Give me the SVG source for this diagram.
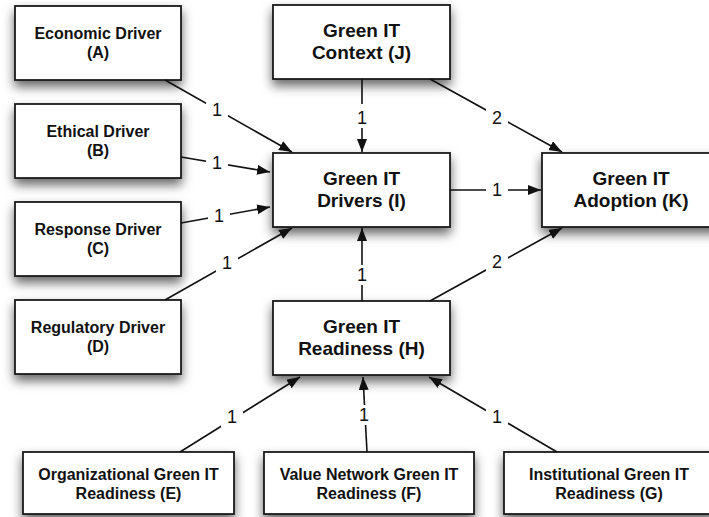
<svg xmlns="http://www.w3.org/2000/svg" width="709" height="517" viewBox="0 0 709 517">
<style>
.box{fill:#fff;stroke:#1a1a1a;stroke-width:1.8;filter:url(#sh)}
.t{font-family:"Liberation Sans",Arial,sans-serif;font-weight:bold;fill:#111;text-anchor:middle}
.s{font-size:16px}
.b{font-size:19px}
.e{stroke:#111;stroke-width:1.6;fill:none;marker-end:url(#ah)}
.l{font-family:"Liberation Sans",Arial,sans-serif;font-size:18px;fill:#111;text-anchor:middle}
.lb{fill:#fff}
</style>
<defs>
<filter id="sh" x="-20%" y="-30%" width="140%" height="180%">
<feDropShadow dx="0" dy="6" stdDeviation="5.5" flood-color="#000" flood-opacity="0.6"/>
</filter>
<marker id="ah" markerUnits="userSpaceOnUse" markerWidth="14" markerHeight="12" refX="13" refY="5" orient="auto">
<path d="M0,0 L13,5 L0,10 z" fill="#111"/>
</marker>
</defs>
<rect width="709" height="517" fill="#fff"/>
<g id="nodes">
<g id="A"><rect class="box" x="15" y="6" width="166" height="74"/><text class="t s" x="98" y="39">Economic Driver</text><text class="t s" x="98" y="58">(A)</text></g>
<g id="B"><rect class="box" x="15" y="104" width="166" height="74"/><text class="t s" x="98" y="137">Ethical Driver</text><text class="t s" x="98" y="156">(B)</text></g>
<g id="C"><rect class="box" x="15" y="202" width="166" height="74"/><text class="t s" x="98" y="235">Response Driver</text><text class="t s" x="98" y="254">(C)</text></g>
<g id="D"><rect class="box" x="15" y="300" width="166" height="74"/><text class="t s" x="98" y="333">Regulatory Driver</text><text class="t s" x="98" y="352">(D)</text></g>
<g id="J"><rect class="box" x="273" y="5" width="177" height="74"/><text class="t b" x="361.5" y="37">Green IT</text><text class="t b" x="361.5" y="59">Context (J)</text></g>
<g id="I"><rect class="box" x="273" y="153" width="177" height="74"/><text class="t b" x="361.5" y="185">Green IT</text><text class="t b" x="361.5" y="207">Drivers (I)</text></g>
<g id="K"><rect class="box" x="542" y="153" width="178" height="74"/><text class="t b" x="631" y="185">Green IT</text><text class="t b" x="631" y="207">Adoption (K)</text></g>
<g id="H"><rect class="box" x="273" y="301" width="177" height="74"/><text class="t b" x="361.5" y="333">Green IT</text><text class="t b" x="361.5" y="355">Readiness (H)</text></g>
<g id="E"><rect class="box" x="23" y="452" width="211" height="62"/><text class="t s" x="128.5" y="480">Organizational Green IT</text><text class="t s" x="128.5" y="499">Readiness (E)</text></g>
<g id="F"><rect class="box" x="264" y="452" width="210" height="62"/><text class="t s" x="369" y="480">Value Network Green IT</text><text class="t s" x="369" y="499">Readiness (F)</text></g>
<g id="G"><rect class="box" x="504" y="452" width="212" height="62"/><text class="t s" x="609" y="480">Institutional Green IT</text><text class="t s" x="609" y="499">Readiness (G)</text></g>
</g>
<g id="connectors">
<line class="e" x1="165" y1="80" x2="292" y2="152"/>
<line class="e" x1="181" y1="157" x2="270" y2="172"/>
<line class="e" x1="181" y1="223" x2="270" y2="207"/>
<line class="e" x1="165" y1="300" x2="292" y2="228"/>
<line class="e" x1="362" y1="79" x2="362" y2="152"/>
<line class="e" x1="430" y1="79" x2="562" y2="152"/>
<line class="e" x1="450" y1="190" x2="541" y2="190"/>
<line class="e" x1="430" y1="301" x2="562" y2="228"/>
<line class="e" x1="362" y1="301" x2="362" y2="228"/>
<line class="e" x1="180" y1="452" x2="300" y2="377"/>
<line class="e" x1="367" y1="452" x2="363" y2="377"/>
<line class="e" x1="557" y1="452" x2="429" y2="377"/>
</g>
<g id="labels">
<rect class="lb" x="206" y="100" width="22" height="20"/><text class="l" x="217" y="116">1</text>
<rect class="lb" x="206" y="153" width="22" height="20"/><text class="l" x="217" y="169">1</text>
<rect class="lb" x="208" y="206" width="22" height="20"/><text class="l" x="219" y="222">1</text>
<rect class="lb" x="216" y="253" width="22" height="20"/><text class="l" x="227" y="269">1</text>
<rect class="lb" x="348" y="104" width="28" height="24"/><text class="l" x="362" y="124">1</text>
<rect class="lb" x="486" y="108" width="22" height="20"/><text class="l" x="497" y="124">2</text>
<rect class="lb" x="486" y="180" width="22" height="20"/><text class="l" x="497" y="196">1</text>
<rect class="lb" x="486" y="252" width="22" height="20"/><text class="l" x="497" y="268">2</text>
<rect class="lb" x="351" y="265" width="22" height="20"/><text class="l" x="362" y="281">1</text>
<rect class="lb" x="221" y="407" width="22" height="20"/><text class="l" x="232" y="423">1</text>
<rect class="lb" x="353" y="405" width="22" height="20"/><text class="l" x="364" y="421">1</text>
<rect class="lb" x="486" y="407" width="22" height="20"/><text class="l" x="497" y="423">1</text>
</g>
</svg>
